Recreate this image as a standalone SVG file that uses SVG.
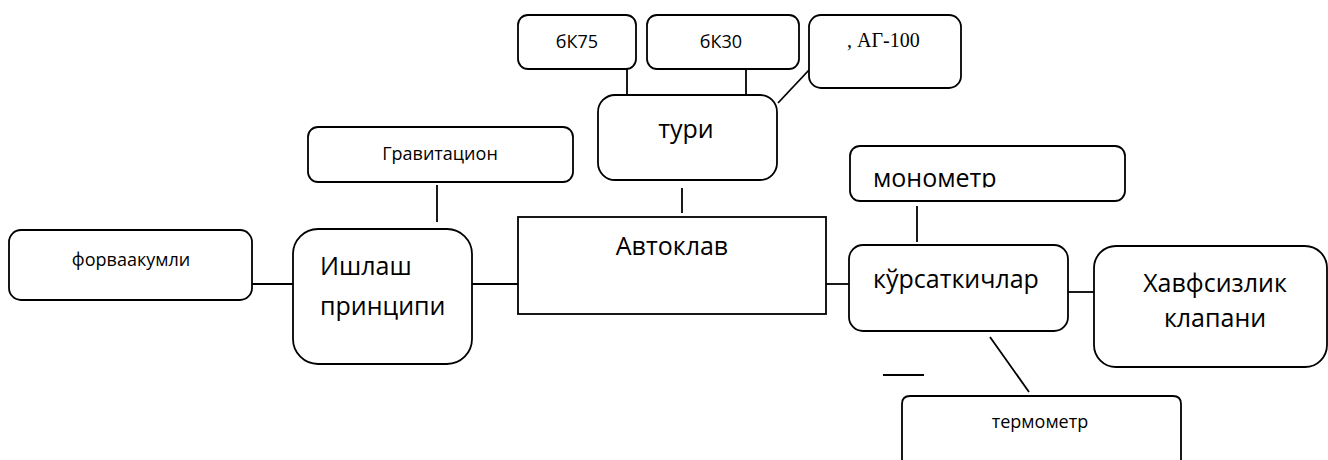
<svg xmlns="http://www.w3.org/2000/svg" width="1328" height="460" viewBox="0 0 1328 460">
<style>
.box{fill:#fff;stroke:#000;stroke-width:1.8}
.ln{stroke:#000;stroke-width:1.8;fill:none}
.big{font-family:"Open Sans","Noto Sans",sans-serif;font-size:25px;fill:#000}
.sm{font-family:"Open Sans","Noto Sans",sans-serif;font-size:18px;fill:#000}
.ser{font-family:"Liberation Serif",serif;font-size:20px;fill:#000}
</style>
<defs>
<clipPath id="clipMono"><rect x="850" y="146" width="275" height="41.5"/></clipPath>
</defs>
<rect width="1328" height="460" fill="#fff"/>
<g id="connectors">
<line class="ln" x1="627" y1="65" x2="627" y2="99"/>
<line class="ln" x1="746" y1="65" x2="746" y2="99"/>
<line class="ln" x1="778" y1="103" x2="809" y2="70"/>
<line class="ln" x1="682" y1="188" x2="682" y2="213"/>
<line class="ln" x1="437" y1="185" x2="437" y2="222"/>
<line class="ln" x1="251" y1="284" x2="293" y2="284"/>
<line class="ln" x1="472" y1="284" x2="518" y2="284"/>
<line class="ln" x1="826" y1="284" x2="849" y2="284"/>
<line class="ln" x1="917" y1="206" x2="917" y2="242"/>
<line class="ln" x1="1068" y1="292" x2="1095" y2="292"/>
<line class="ln" x1="990" y1="337" x2="1029" y2="392"/>
<line class="ln" x1="883" y1="375" x2="924" y2="375"/>
</g>
<g id="bk75">
<rect class="box" x="518" y="15" width="118" height="54" rx="10"/>
<text class="sm" x="577" y="48" text-anchor="middle">бК75</text>
</g>
<g id="bk30">
<rect class="box" x="647" y="15" width="152" height="54" rx="10"/>
<text class="sm" x="721" y="48" text-anchor="middle">бК30</text>
</g>
<g id="ag100">
<rect class="box" x="809" y="15" width="152" height="73" rx="12"/>
<text class="ser" x="847" y="47">, АГ-100</text>
</g>
<g id="turi">
<rect class="box" x="598" y="95" width="179" height="85" rx="17"/>
<text class="big" x="686" y="138" text-anchor="middle">тури</text>
</g>
<g id="gravitatsion">
<rect class="box" x="308" y="127" width="265" height="55" rx="10"/>
<text class="sm" x="440" y="160" text-anchor="middle">Гравитацион</text>
</g>
<g id="monometr">
<rect class="box" x="850" y="146" width="275" height="55" rx="10"/>
<text class="big" x="873" y="187" clip-path="url(#clipMono)">монометр</text>
</g>
<g id="forvaakumli">
<rect class="box" x="9" y="230" width="243" height="70" rx="12"/>
<text class="sm" x="131" y="266" text-anchor="middle">форваакумли</text>
</g>
<g id="ishlash">
<rect class="box" x="293" y="229" width="179" height="135" rx="25"/>
<text class="big" x="320" y="275">Ишлаш</text>
<text class="big" x="320" y="315">принципи</text>
</g>
<g id="avtoklav">
<rect class="box" x="518" y="217" width="308" height="97"/>
<text class="big" x="672" y="255" text-anchor="middle">Автоклав</text>
</g>
<g id="kursatkichlar">
<rect class="box" x="849" y="245" width="219" height="86" rx="14"/>
<text class="big" x="956" y="288" text-anchor="middle">кўрсаткичлар</text>
</g>
<g id="xavfsizlik">
<rect class="box" x="1094" y="246" width="233" height="121" rx="22"/>
<text class="big" x="1215" y="292" text-anchor="middle">Хавфсизлик</text>
<text class="big" x="1215" y="327" text-anchor="middle">клапани</text>
</g>
<g id="termometr">
<path class="box" d="M902,462 V404 Q902,396 910,396 H1173 Q1181,396 1181,404 V462"/>
<text class="sm" x="1040" y="428" text-anchor="middle">термометр</text>
</g>
</svg>
